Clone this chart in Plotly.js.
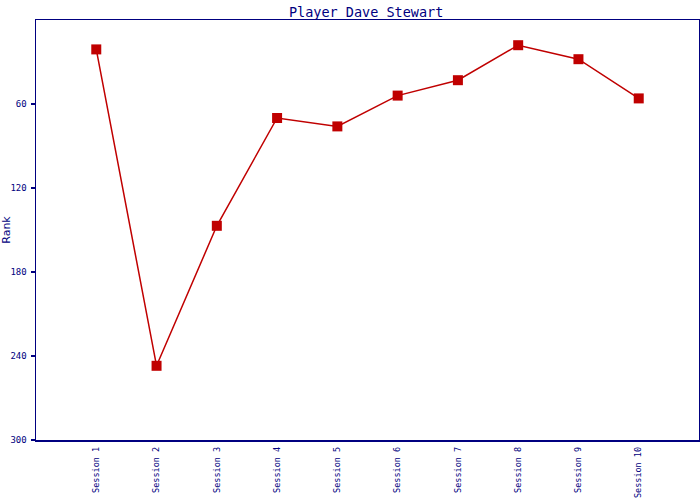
<!DOCTYPE html>
<html><head><meta charset="utf-8">
<script src="https://cdn.plot.ly/plotly-3.0.1.min.js"></script>
<style>html,body{margin:0;padding:0;background:#fff}</style>
</head><body>
<div id="chart" style="width:700px;height:500px"></div>
<script>
var sessions = ["Session 1","Session 2","Session 3","Session 4","Session 5","Session 6","Session 7","Session 8","Session 9","Session 10"];
var ranks = [21, 247, 147, 70, 76, 54, 43, 18, 28, 56];
var yTicks = [60, 120, 180, 240, 300];

var navy = "#000080";
var mono = "DejaVu Sans Mono, monospace";

Plotly.newPlot("chart", [{
  x: sessions, y: ranks, type: "scatter", mode: "lines+markers",
  line: {color: "#c00000", width: 1.5},
  marker: {symbol: "square", size: 10, color: "#c00000"},
  hoverinfo: "none"
}], {
  width: 700, height: 500,
  margin: {l: 36, r: 1, t: 20, b: 60, pad: 0},
  paper_bgcolor: "#fff", plot_bgcolor: "#fff",
  showlegend: false,
  title: {text: "Player Dave Stewart", font: {family: mono, size: 13.5, color: navy}, x: 0.523, xanchor: "center", y: 0.985, yanchor: "top"},
  xaxis: {
    type: "category", range: [-1, 10], showgrid: false, zeroline: false,
    showline: true, linecolor: navy, linewidth: 1.5, mirror: true,
    ticks: "", tickangle: -90, ticklabelstandoff: 2, tickfont: {family: mono, size: 8.5, color: navy}
  },
  yaxis: {
    range: [300, 0], tickvals: yTicks, ticktext: yTicks.map(String),
    showgrid: false, zeroline: false,
    showline: true, linecolor: navy, linewidth: 1.5, mirror: true,
    ticks: "outside", ticklen: 4, tickcolor: navy, tickwidth: 1.5, ticklabelstandoff: 2,
    tickfont: {family: mono, size: 9, color: navy},
    title: {text: "Rank", font: {family: "DejaVu Sans, sans-serif", size: 11, color: navy}, standoff: 4}
  }
}, {staticPlot: true});
</script>
</body></html>
